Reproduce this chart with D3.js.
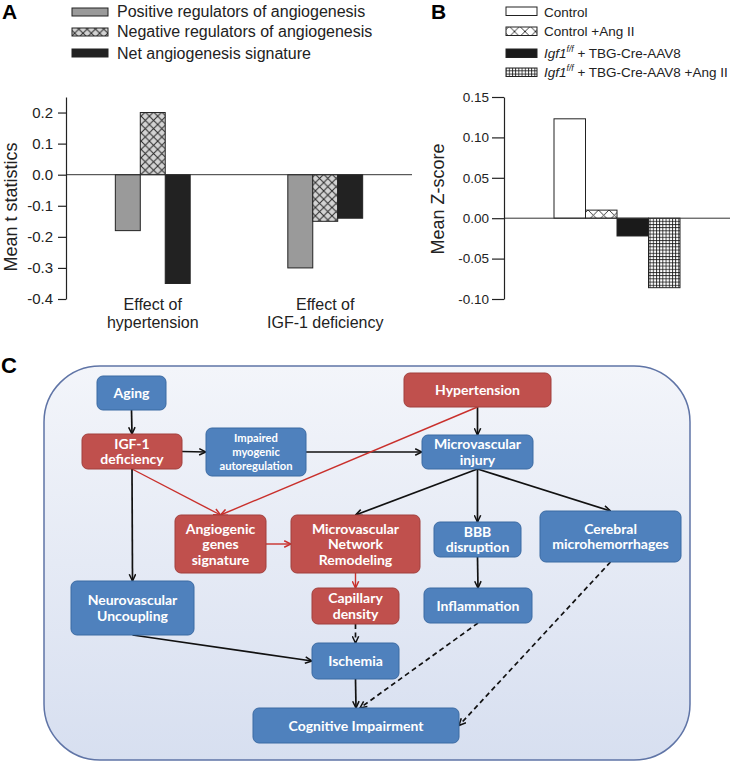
<!DOCTYPE html>
<html>
<head>
<meta charset="utf-8">
<script src="https://cdn.jsdelivr.net/npm/d3@7"></script>
<style>
  html, body { margin: 0; padding: 0; background: #fff; }
  svg { display: block; }
</style>
</head>
<body>
<svg id="fig" width="734" height="762"></svg>
<script>
// ---------------- DATA ----------------
// Panel A
const groupsA = ["Effect of|hypertension", "Effect of|IGF-1 deficiency"];
const seriesA = ["Positive regulators of angiogenesis", "Negative regulators of angiogenesis", "Net angiogenesis signature"];
const positiveA = [-0.18, -0.30];
const negativeA = [0.20, -0.15];
const netA = [-0.35, -0.14];
const ticksA = [-0.4, -0.3, -0.2, -0.1, 0.0, 0.1, 0.2];

// Panel B
const seriesB = ["Control", "Control +Ang II", "Igf1 + TBG-Cre-AAV8", "Igf1 + TBG-Cre-AAV8 +Ang II"];
const valuesB = [0.123, 0.010, -0.022, -0.086];
const ticksB = [-0.10, -0.05, 0.00, 0.05, 0.10, 0.15];

// Panel C (diagram)
const nodeIds = ["aging","igf","impaired","hyper","mvinj","angio","mnr","bbb","cereb","neuro","cap","infl","isch","cog"];
const nodeLabels = [
  ["Aging"], ["IGF-1","deficiency"], ["Impaired","myogenic","autoregulation"], ["Hypertension"],
  ["Microvascular","injury"], ["Angiogenic","genes","signature"], ["Microvascular","Network","Remodeling"],
  ["BBB","disruption"], ["Cerebral","microhemorrhages"], ["Neurovascular","Uncoupling"],
  ["Capillary","density"], ["Inflammation"], ["Ischemia"], ["Cognitive Impairment"]
];
const nodeKinds = ["blue","red","blue","red","blue","red","red","blue","blue","blue","red","blue","blue","blue"];
const edgeList = [
  ["aging","igf","black",false], ["igf","impaired","black",false], ["impaired","mvinj","black",false],
  ["hyper","mvinj","black",false], ["hyper","angio","red",false], ["igf","angio","red",false],
  ["igf","neuro","black",false], ["mvinj","mnr","black",false], ["mvinj","bbb","black",false],
  ["mvinj","cereb","black",false], ["angio","mnr","red",false], ["mnr","cap","red",false],
  ["cap","isch","black",true], ["neuro","isch","black",false], ["isch","cog","black",false],
  ["bbb","infl","black",false], ["infl","cog","black",true], ["cereb","cog","black",true]
];

// ---------------- LAYOUT ----------------
const svg = d3.select("#fig");
const defs = svg.append("defs");
const ARIAL = "'Liberation Sans', Arial, sans-serif";

function hatch(id, size, bg, strokeW, color, kind) {
  const p = defs.append("pattern").attr("id", id).attr("patternUnits", "userSpaceOnUse")
    .attr("width", size).attr("height", size);
  p.append("rect").attr("width", size).attr("height", size).attr("fill", bg);
  if (kind === "cross") {
    p.append("path").attr("d", `M0,0L${size},${size}M${size},0L0,${size}`)
      .attr("stroke", color).attr("stroke-width", strokeW).attr("fill", "none");
  } else {
    p.append("path").attr("d", `M0,0.5H${size}M0.5,0V${size}`)
      .attr("stroke", color).attr("stroke-width", strokeW).attr("fill", "none");
  }
}
hatch("xhA", 8.3, "#d3d3d3", 1, "#2a2a2a", "cross");
hatch("xhB", 10.5, "#ffffff", 0.9, "#222", "cross");
hatch("gridB", 3.2, "#ffffff", 0.8, "#111", "grid");

// Panel labels
svg.append("text").attr("x", 2).attr("y", 19).text("A").attr("font-family", ARIAL).attr("font-weight", "bold").attr("font-size", 21);
svg.append("text").attr("x", 431).attr("y", 19).text("B").attr("font-family", ARIAL).attr("font-weight", "bold").attr("font-size", 21);
svg.append("text").attr("x", 1).attr("y", 373).text("C").attr("font-family", ARIAL).attr("font-weight", "bold").attr("font-size", 22);

// ---------- Panel A ----------
const fillsA = ["#9a9a9a", "url(#xhA)", "#222"];
const valsA = [positiveA, negativeA, netA];
const yA = d3.scaleLinear().domain([-0.4, 0.25]).range([299, 97]);
const xA = d3.scaleBand().domain(groupsA).range([66, 412]).paddingInner(0.566).paddingOuter(0.286);
const xAin = d3.scaleBand().domain(seriesA).range([0, xA.bandwidth()]);

const gA = svg.append("g");
groupsA.forEach((g, gi) => {
  seriesA.forEach((s, si) => {
    const v = valsA[si][gi];
    gA.append("rect")
      .attr("x", xA(g) + xAin(s)).attr("width", xAin.bandwidth())
      .attr("y", yA(Math.max(0, v))).attr("height", Math.abs(yA(v) - yA(0)))
      .attr("fill", fillsA[si]).attr("stroke", "#222").attr("stroke-width", 1);
  });
  const lines = g.split("|");
  lines.forEach((l, li) => {
    gA.append("text").attr("x", xA(g) + xA.bandwidth() / 2).attr("y", 309.5 + li * 18)
      .attr("text-anchor", "middle").attr("font-family", ARIAL).attr("font-size", 16).attr("fill", "#222").text(l);
  });
});
gA.append("line").attr("x1", 66).attr("x2", 412).attr("y1", yA(0)).attr("y2", yA(0)).attr("stroke", "#333").attr("stroke-width", 1);
const axA = svg.append("g").attr("transform", "translate(66,0)")
  .call(d3.axisLeft(yA).tickValues(ticksA).tickFormat(d => d.toFixed(1)).tickSize(8).tickSizeOuter(0).tickPadding(5));
axA.selectAll("text").attr("font-family", ARIAL).attr("font-size", 15).attr("fill", "#222");
axA.selectAll("path,line").attr("stroke", "#222").attr("stroke-width", 1.2);
svg.append("text").attr("transform", "translate(17,207) rotate(-90)").attr("text-anchor", "middle")
  .attr("font-family", ARIAL).attr("font-size", 18).attr("fill", "#222").text("Mean t statistics");

// Legend A
const legAy = [8, 28, 49];
const legAbase = [17, 37, 59];
seriesA.forEach((s, i) => {
  svg.append("rect").attr("x", 72).attr("y", legAy[i]).attr("width", 36).attr("height", 8)
    .attr("fill", fillsA[i]).attr("stroke", "#222").attr("stroke-width", 1);
  svg.append("text").attr("x", 117).attr("y", legAbase[i]).attr("font-family", ARIAL).attr("font-size", 16)
    .attr("fill", "#222").text(s);
});

// ---------- Panel B ----------
const fillsB = ["#ffffff", "url(#xhB)", "#1a1a1a", "url(#gridB)"];
const yB = d3.scaleLinear().domain([-0.10, 0.15]).range([299, 97]);
const xB = d3.scaleBand().domain(seriesB).range([554, 680]);
seriesB.forEach((s, i) => {
  const v = valuesB[i];
  svg.append("rect").attr("x", xB(s)).attr("width", xB.bandwidth())
    .attr("y", yB(Math.max(0, v))).attr("height", Math.abs(yB(v) - yB(0)))
    .attr("fill", fillsB[i]).attr("stroke", "#222").attr("stroke-width", 1);
});
svg.append("line").attr("x1", 504).attr("x2", 730).attr("y1", yB(0)).attr("y2", yB(0)).attr("stroke", "#333").attr("stroke-width", 1);
const axB = svg.append("g").attr("transform", "translate(504,0)")
  .call(d3.axisLeft(yB).tickValues(ticksB).tickFormat(d => d.toFixed(2)).tickSize(12).tickSizeOuter(0).tickPadding(3));
axB.selectAll("text").attr("font-family", ARIAL).attr("font-size", 13.5).attr("fill", "#222");
axB.selectAll("path,line").attr("stroke", "#222").attr("stroke-width", 1.2);
svg.append("text").attr("transform", "translate(444,199) rotate(-90)").attr("text-anchor", "middle")
  .attr("font-family", ARIAL).attr("font-size", 18).attr("fill", "#222").text("Mean Z-score");

// Legend B
const legBy = [7, 27, 49, 68];
const legBbase = [16.5, 36, 57.5, 77];
seriesB.forEach((s, i) => {
  svg.append("rect").attr("x", 506).attr("y", legBy[i]).attr("width", 31).attr("height", 8.5)
    .attr("fill", fillsB[i]).attr("stroke", "#222").attr("stroke-width", 1);
  const t = svg.append("text").attr("x", 544).attr("y", legBbase[i]).attr("font-family", ARIAL)
    .attr("font-size", 13.5).attr("fill", "#222");
  if (s.startsWith("Igf1")) {
    t.append("tspan").attr("font-style", "italic").text("Igf1");
    t.append("tspan").attr("font-style", "italic").attr("font-size", 8.5).attr("dy", -6).text("f/f");
    t.append("tspan").attr("dy", 6).text(s.slice(4));
  } else {
    t.text(s);
  }
});

// ---------- Panel C ----------
const bg = defs.append("linearGradient").attr("id", "bgC").attr("x1", 0).attr("y1", 0).attr("x2", 0).attr("y2", 1);
bg.append("stop").attr("offset", 0).attr("stop-color", "#f3f5fa");
bg.append("stop").attr("offset", 1).attr("stop-color", "#d7dff0");
svg.append("rect").attr("x", 44).attr("y", 366).attr("width", 646).attr("height", 394).attr("rx", 56).attr("ry", 56)
  .attr("fill", "url(#bgC)").attr("stroke", "#5f74a6").attr("stroke-width", 1.5);

const boxes = {
  aging: [97, 376, 166, 410], igf: [82, 434, 182, 469], impaired: [206, 428, 306, 476],
  hyper: [404, 373, 551, 407], mvinj: [422, 435, 533, 469], angio: [175, 515, 266, 573],
  mnr: [291, 515, 420, 573], bbb: [434, 522, 521, 557], cereb: [540, 511, 681, 562],
  neuro: [71, 581, 194, 635], cap: [312, 588, 399, 624], infl: [424, 588, 532, 623],
  isch: [312, 643, 399, 679], cog: [253, 708, 459, 743]
};
const anchors = {
  "aging>igf": ["b", "t"], "igf>impaired": ["r", "l"], "impaired>mvinj": ["r", "l"],
  "hyper>mvinj": ["b", "t"], "hyper>angio": ["b", "t"], "igf>angio": ["b", "t"],
  "igf>neuro": ["b", "t"], "mvinj>mnr": ["b", "t"], "mvinj>bbb": ["b", "t"],
  "mvinj>cereb": ["b", "t"], "angio>mnr": ["r", "l"], "mnr>cap": ["b", "t"],
  "cap>isch": ["b", "t"], "neuro>isch": ["b", "l"], "isch>cog": ["b", "t"],
  "bbb>infl": ["b", "t"], "infl>cog": ["b", "t+4"], "cereb>cog": ["b", "r"]
};
function pt(id, a) {
  const [x0, y0, x1, y1] = boxes[id];
  const cx = (x0 + x1) / 2, cy = (y0 + y1) / 2;
  if (a === "t") return [cx, y0];
  if (a === "t+4") return [cx + 4, y0];
  if (a === "b") return [cx, y1];
  if (a === "l") return [x0, cy];
  return [x1, cy];
}
const colors = { black: "#111", red: "#c9302c" };
["black", "red"].forEach(c => {
  defs.append("marker").attr("id", "arr-" + c).attr("markerUnits", "userSpaceOnUse")
    .attr("viewBox", "0 0 10 10").attr("refX", 9.5).attr("refY", 5)
    .attr("markerWidth", 8).attr("markerHeight", 8).attr("orient", "auto")
    .append("path").attr("d", "M1,1 L9.5,5 L1,9").attr("fill", "none")
    .attr("stroke", colors[c]).attr("stroke-width", 1.9);
});
const gE = svg.append("g");
edgeList.forEach(([s, t, c, dashed]) => {
  const an = anchors[s + ">" + t];
  const p0 = pt(s, an[0]), p1 = pt(t, an[1]);
  gE.append("line").attr("x1", p0[0]).attr("y1", p0[1]).attr("x2", p1[0]).attr("y2", p1[1])
    .attr("stroke", colors[c]).attr("stroke-width", c === "red" ? 1.4 : 1.7)
    .attr("stroke-dasharray", dashed ? "5,3.5" : null)
    .attr("marker-end", `url(#arr-${c})`);
});

const nodeFill = { blue: "#4f81bd", red: "#c0504d" };
const nodeStroke = { blue: "#3b6aa3", red: "#a13f3c" };
const gN = svg.append("g");
nodeIds.forEach((id, i) => {
  const [x0, y0, x1, y1] = boxes[id];
  const kind = nodeKinds[i];
  gN.append("rect").attr("x", x0).attr("y", y0).attr("width", x1 - x0).attr("height", y1 - y0)
    .attr("rx", 6).attr("ry", 6).attr("fill", nodeFill[kind]).attr("stroke", nodeStroke[kind]).attr("stroke-width", 1);
  const lines = nodeLabels[i];
  const fs = id === "impaired" ? 11.2 : 14;
  const lh = id === "impaired" ? 13.6 : 15.5;
  const cx = (x0 + x1) / 2, cy = (y0 + y1) / 2;
  lines.forEach((l, li) => {
    gN.append("text").attr("x", cx).attr("y", cy - (lines.length - 1) * lh / 2 + li * lh + fs * 0.36)
      .attr("text-anchor", "middle").attr("font-family", "Lato, 'Open Sans', sans-serif")
      .attr("font-weight", "bold").attr("font-size", fs).attr("fill", "#fff").text(l);
  });
});
</script>
</body>
</html>
